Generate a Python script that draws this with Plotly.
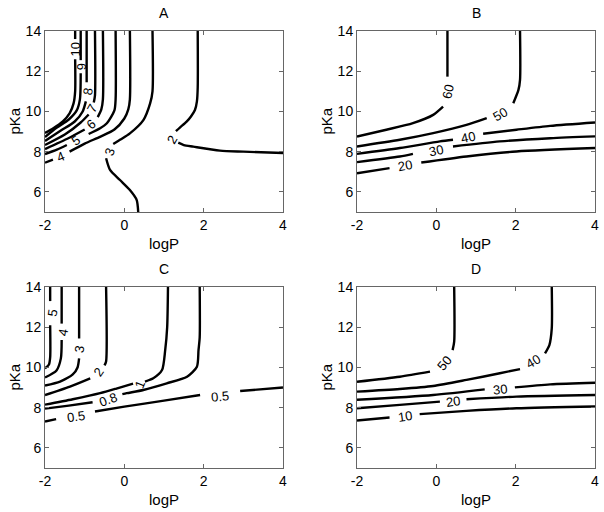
import plotly.graph_objects as go

# ---------------- data (logP, pKa); None = gap for a label ----
# Panel A
A_levels = ["10", "9", "8", "7", "6", "5", "4", "3", "2"]
A_x = [
    [-1.24, -1.24, None, -1.24, -1.24, -1.28, -1.38, -1.55, -1.8, -2],
    [-1.10, -1.10, None, -1.10, -1.12, -1.2, -1.4, -1.7, -2],
    [-0.95, -0.95, None, -0.97, -1.05, -1.25, -1.6, -2],
    [-0.74, -0.74, -0.77, None, -0.9, -1.1, -1.5, -2],
    [-0.54, -0.54, -0.58, -0.67, None, -1.0, -1.4, -2],
    [-0.22, -0.22, -0.25, -0.44, -0.61, -0.9, None, -1.45, -1.7, -2],
    [0.14, 0.14, 0.1, 0.0, -0.25, -0.6, -1.0, -1.38, None, -1.8, -2],
    [0.71, 0.71, 0.65, 0.48, 0.14, -0.1, -0.28, None, -0.46, -0.36, -0.11, 0.14, 0.31, 0.35],
    [1.85, 1.85, 1.83, 1.78, 1.68, 1.57, 1.4, 1.3, None, 1.36, 1.5, 1.74, 2.41, 3.0, 4.0],
]
A_y = [
    [14, 13.6, None, 12.6, 11.0, 10.4, 9.9, 9.5, 9.15, 8.93],
    [14, 12.55, None, 11.9, 10.6, 10.05, 9.6, 9.2, 8.73],
    [14, 11.45, None, 10.5, 10.0, 9.5, 9.05, 8.53],
    [14, 10.8, 10.45, None, 9.85, 9.45, 8.85, 8.33],
    [14, 10.6, 10.1, 9.72, None, 9.1, 8.68, 8.13],
    [14, 10.6, 10.05, 9.41, 9.16, 8.88, None, 8.33, 8.1, 7.88],
    [14, 10.6, 10.1, 9.65, 9.1, 8.75, 8.4, 8.0, None, 7.6, 7.45],
    [14, 11.0, 10.4, 9.57, 8.91, 8.6, 8.38, None, 7.67, 7.09, 6.59, 6.09, 5.6, 5.0],
    [14, 11.2, 10.5, 10.07, 9.75, 9.49, 9.2, 9.02, None, 8.45, 8.33, 8.25, 8.05, 8.0, 7.93],
]
A_lab_x = [-1.24, -1.08, -0.91, -0.82, -0.84, -1.22, -1.6, -0.38, 1.2]
A_lab_y = [13.09, 12.22, 10.98, 10.17, 9.33, 8.58, 7.75, 7.98, 8.63]
A_lab_ang = [-90, -90, -80, -60, -40, -35, -22, -70, -60]

# Panel B
B_levels = ["60", "50", "40", "30", "20"]
B_x = [
    [0.28, 0.28, None, 0.17, -0.08, -0.59, -1.26, -2],
    [2.11, 2.11, 2.07, 1.94, None, 1.27, 0.76, -0.08, -0.92, -2],
    [-2, -0.92, 0.09, 0.42, None, 1.18, 2.02, 2.87, 4],
    [-2, -0.92, -0.59, None, 0.42, 1.6, 2.87, 4],
    [-2, -1.18, None, -0.38, 0.76, 2.02, 4],
]
B_y = [
    [14, 11.73, None, 10.24, 9.83, 9.42, 9.09, 8.75],
    [14, 11.57, 11.07, 10.41, None, 9.67, 9.33, 8.92, 8.59, 8.26],
    [7.89, 8.18, 8.51, 8.59, None, 8.89, 9.09, 9.28, 9.45],
    [7.48, 7.76, 7.89, None, 8.26, 8.51, 8.67, 8.76],
    [6.93, 7.18, None, 7.46, 7.76, 8.01, 8.18],
]
B_lab_x = [0.30, 1.6, 0.8, 0.0, -0.78]
B_lab_y = [10.99, 9.85, 8.7, 8.05, 7.3]
B_lab_ang = [-78, -30, -12, -12, -10]

# Panel C
C_levels = ["5", "4", "3", "2", "1", "0.8", "0.5", "0.5"]
C_x = [
    [-1.87, -1.87, None, -1.87, -1.87, -1.9, -2],
    [-1.58, -1.58, None, -1.58, -1.6, -1.71, -2],
    [-1.14, -1.14, None, -1.14, -1.18, -1.3, -1.62, -2],
    [-0.46, -0.46, -0.5, None, -0.86, -1.37, -2],
    [1.1, 1.08, 1.03, 0.95, 0.73, 0.52, None, 0.22, -0.2, -0.61, -1.3, -2],
    [1.9, 1.9, 1.87, 1.83, 1.58, 1.07, 0.48, 0.06, -0.05, None, -0.8, -1.4, -2],
    [-2, -1.72, None, -0.74, 0.0, 1.0, 1.91, None, 2.92, 4],
]
C_y = [
    [14, 13.3, None, 12.1, 10.5, 10.15, 9.95],
    [14, 12.18, None, 11.36, 10.45, 9.85, 9.5],
    [14, 11.44, None, 10.45, 10.0, 9.65, 9.3, 9.1],
    [14, 10.3, 10.1, None, 9.46, 9.05, 8.63],
    [14, 12.0, 10.86, 9.87, 9.46, 9.3, None, 9.2, 8.95, 8.72, 8.42, 8.15],
    [14, 11.5, 10.86, 10.04, 9.54, 9.21, 8.88, 8.72, 8.67, None, 8.27, 8.1, 7.95],
    [7.31, 7.43, None, 7.81, 8.05, 8.35, 8.63, None, 8.83, 9.0],
]
C_lab_x = [-1.82, -1.55, -1.12, -0.66, 0.40, -0.4, -1.22, 2.42]
C_lab_y = [12.7, 11.76, 10.92, 9.76, 9.13, 8.42, 7.55, 8.57]
C_lab_ang = [-82, -80, -80, -55, -68, -20, -8, -5]

# Panel D
D_levels = ["50", "40", "30", "20", "10"]
D_x = [
    [0.45, 0.45, 0.41, None, -0.16, -0.92, -2],
    [2.91, 2.91, 2.85, 2.74, None, 2.11, 1.6, 0.76, -0.08, -0.92, -2],
    [-2, -0.08, 1.22, None, 1.98, 2.87, 4],
    [-2, -0.92, 0.09, None, 0.76, 2.02, 4],
    [-2, -1.18, None, -0.42, 0.76, 2.02, 4],
]
D_y = [
    [14, 11.28, 10.86, None, 9.79, 9.54, 9.29],
    [14, 11.94, 11.11, 10.7, None, 9.92, 9.71, 9.38, 9.08, 8.93, 8.8],
    [8.39, 8.63, 8.91, None, 9.01, 9.16, 9.24],
    [7.97, 8.14, 8.3, None, 8.42, 8.55, 8.63],
    [7.36, 7.51, None, 7.68, 7.84, 7.97, 8.06],
]
D_lab_x = [0.19, 2.44, 1.6, 0.42, -0.8]
D_lab_y = [10.22, 10.3, 8.88, 8.3, 7.55]
D_lab_ang = [-50, -30, -6, -8, -8]

titles = ["A", "B", "C", "D"]
x_ticks = [-2, 0, 2, 4]
y_ticks = [6, 8, 10, 12, 14]
x_label = "logP"
y_label = "pKa"

# ---------------- figure ----------------
W, H = 604, 512
FONT = "Liberation Sans, Arial, sans-serif"

# pixel boxes of the four axes (left, right, top, bottom)
boxes = [(45, 283, 31, 212), (357, 595, 31, 212), (45, 283, 287, 468), (357, 595, 287, 468)]

fig = go.Figure()
panels = [
    (A_x, A_y, A_levels, A_lab_x, A_lab_y, A_lab_ang),
    (B_x, B_y, B_levels, B_lab_x, B_lab_y, B_lab_ang),
    (C_x, C_y, C_levels, C_lab_x, C_lab_y, C_lab_ang),
    (D_x, D_y, D_levels, D_lab_x, D_lab_y, D_lab_ang),
]

annotations = []
for i, (px, py, levels, lx, ly, la) in enumerate(panels):
    xa = "x" if i == 0 else f"x{i+1}"
    ya = "y" if i == 0 else f"y{i+1}"
    for cx, cy in zip(px, py):
        fig.add_trace(go.Scatter(
            x=cx, y=cy, mode="lines", xaxis=xa, yaxis=ya,
            line=dict(color="black", width=2.4, shape="spline", smoothing=0.7),
            connectgaps=False, showlegend=False, hoverinfo="skip", cliponaxis=True))
    for t, x0, y0, ang in zip(levels, lx, ly, la):
        annotations.append(dict(
            x=x0, y=y0, xref=xa, yref=ya, text=t, showarrow=False,
            textangle=ang, font=dict(family=FONT, size=13, color="black")))

    l, r, t, b = boxes[i]
    axis_common = dict(showline=True, linecolor="#666666", linewidth=1, mirror="ticks",
                       ticks="inside", ticklen=4, tickcolor="#666666", automargin=False,
                       showgrid=False, zeroline=False, fixedrange=True,
                       tickfont=dict(family=FONT, size=14, color="black"))
    fig.update_layout({
        ("xaxis" if i == 0 else f"xaxis{i+1}"): dict(
            domain=[l / W, r / W], anchor=ya, range=[-2, 4],
            tickvals=x_ticks, ticktext=[str(v) for v in x_ticks], **axis_common),
        ("yaxis" if i == 0 else f"yaxis{i+1}"): dict(
            domain=[(H - b) / H, (H - t) / H], anchor=xa, range=[5, 14],
            tickvals=y_ticks, ticktext=[str(v) for v in y_ticks], **axis_common),
    })
    xd = "x domain" if i == 0 else f"x{i+1} domain"
    yd = "y domain" if i == 0 else f"y{i+1} domain"
    annotations.append(dict(x=0.5, y=1, xref=xd, yref=yd, text=titles[i], showarrow=False,
                            yanchor="bottom", yshift=8, font=dict(family=FONT, size=14, color="black")))
    annotations.append(dict(x=0.5, y=0, xref=xd, yref=yd, text=x_label, showarrow=False,
                            yanchor="top", yshift=-21, font=dict(family=FONT, size=15, color="black")))
    annotations.append(dict(x=0, y=0.5, xref=xd, yref=yd, text=y_label, showarrow=False,
                            xanchor="center", xshift=-31, textangle=-90,
                            font=dict(family=FONT, size=15, color="black")))

fig.update_layout(width=W, height=H, margin=dict(l=0, r=0, t=0, b=0, autoexpand=False),
                  paper_bgcolor="white", plot_bgcolor="white",
                  annotations=annotations, showlegend=False, hovermode=False)

# remove the page's default body margin so the figure sits at the window origin
fig.write_html("out.html", config={"displayModeBar": False, "staticPlot": True},
               post_script="document.body.style.margin='0';document.body.style.overflow='hidden';")
